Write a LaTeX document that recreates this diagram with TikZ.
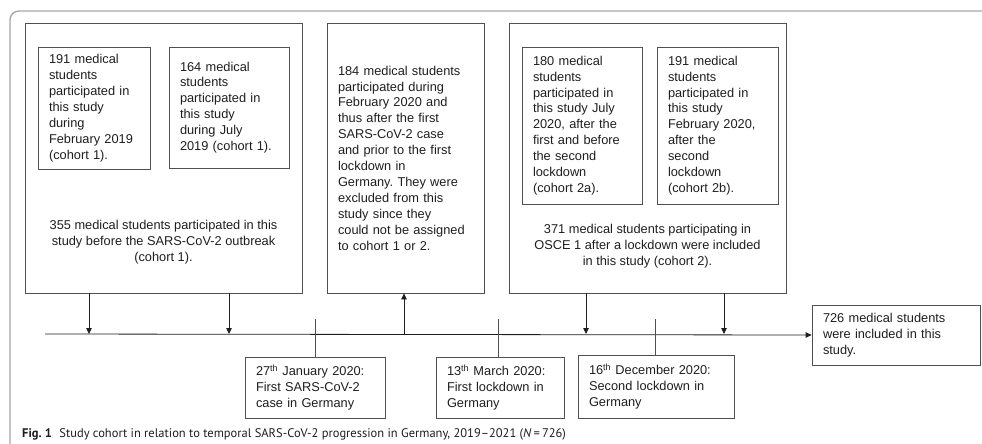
\documentclass[tikz,border=0pt]{standalone}
\usepackage{fontspec}
\setmainfont{Liberation Sans}
\newfontfamily\capfont{PT Sans}
\usetikzlibrary{arrows.meta}
\frenchspacing

\definecolor{boxgray}{HTML}{505050}
\definecolor{framegray}{HTML}{A8A8A8}
\definecolor{inkblack}{HTML}{1E1E1E}

\tikzset{
  boxline/.style={draw=boxgray, line width=0.8pt},
  textbox/.style={boxline, align=left, inner xsep=11pt, inner ysep=0pt},
  outerbox/.style={boxline, inner sep=0pt},
  timeline/.style={draw=inkblack, line width=0.8pt},
  tick/.style={draw=boxgray, line width=0.8pt}
}

\begin{document}
\begin{tikzpicture}[x=1pt, y=-1pt, >={Triangle[length=6pt,width=5.5pt]},
  every node/.append style={font=\fontsize{12.8}{15.9}\selectfont, text=inkblack}]
\useasboundingbox (0,0) rectangle (982,444);

% Frame
\draw[framegray, line width=1.4pt, rounded corners=9pt] (10,444) -- (10,11) -- (982,11);

% Cohort 1
\node[outerbox, minimum width=277, minimum height=270] (c1) at (163.5,158) {};
\node[textbox, text width=90, minimum height=122] (c1a) at (94,108)
  {191 medical\\students\\participated in\\this study\\during\\February 2019\\(cohort 1).};
\node[textbox, text width=98, minimum height=121] (c1b) at (229,107.5)
  {164 medical\\students\\participated in\\this study\\during July\\2019 (cohort 1).};
\node[align=center] (c1txt) at (163.5,242)
  {355 medical students participated in this\\study before the SARS-CoV-2 outbreak\\(cohort 1).};

% Excluded students
\node[textbox, text width=135, minimum height=270] (excl) at (405.5,158)
  {184 medical students\\participated during\\February 2020 and\\thus after the first\\SARS-CoV-2 case\\and prior to the first\\lockdown in\\Germany. They were\\excluded from this\\study since they\\could not be assigned\\to cohort 1 or 2.};

% Cohort 2
\node[outerbox, minimum width=277, minimum height=270] (c2) at (647.5,158) {};
\node[textbox, text width=98, minimum height=157] (c2a) at (582,125.5)
  {180 medical\\students\\participated in\\this study July\\2020, after the\\first and before\\the second\\lockdown\\(cohort 2a).};
\node[textbox, text width=99, minimum height=157] (c2b) at (717.5,125.5)
  {191 medical\\students\\participated in\\this study\\February 2020,\\after the\\second\\lockdown\\(cohort 2b).};
\node[align=center] (c2txt) at (647.5,246)
  {371 medical students participating in\\OSCE 1 after a lockdown were included\\in this study (cohort 2).};

% Result
\node[textbox, text width=146, minimum height=60] (res) at (896,335)
  {726 medical students\\were included in this\\study.};

% Events
\node[textbox, text width=118, minimum height=61] (e1) at (315,387.5)
  {27\textsuperscript{th} January 2020:\\First SARS-CoV-2\\case in Germany};
\node[textbox, text width=106, minimum height=61] (e2) at (500,387.5)
  {13\textsuperscript{th} March 2020:\\First lockdown in\\Germany};
\node[textbox, text width=134, minimum height=63] (e3) at (656,386.5)
  {16\textsuperscript{th} December 2020:\\Second lockdown in\\Germany};

% Timeline
\coordinate (t0) at (45,334);
\coordinate (t1) at (89,334);
\coordinate (t2) at (229,334);
\coordinate (t3) at (404,334);
\coordinate (t4) at (586,334);
\coordinate (t5) at (724,334);
\draw[timeline, ->] (t0) -- (res.west);

\draw[timeline, ->] (c1.south -| t1) -- (t1);
\draw[timeline, ->] (c1.south -| t2) -- (t2);
\draw[timeline, ->] (t3) -- (excl.south -| t3);
\draw[timeline, ->] (c2.south -| t4) -- (t4);
\draw[timeline, ->] (c2.south -| t5) -- (t5);

\draw[tick] (e1.north) -- +(0,-38);
\draw[tick] (e2.north -| 498,0) -- +(0,-38);
\draw[tick] (e3.north -| 655,0) -- +(0,-36);

% Caption
\node[anchor=base west, inner sep=0pt, font=\capfont\fontsize{12.5}{14}\selectfont] (cap) at (22,437)
  {\textbf{Fig. 1}\hspace{0.6em}Study cohort in relation to temporal SARS-CoV-2 progression in Germany, 2019\textendash 2021 (\textit{N}\,=\,726)};
\end{tikzpicture}
\end{document}
